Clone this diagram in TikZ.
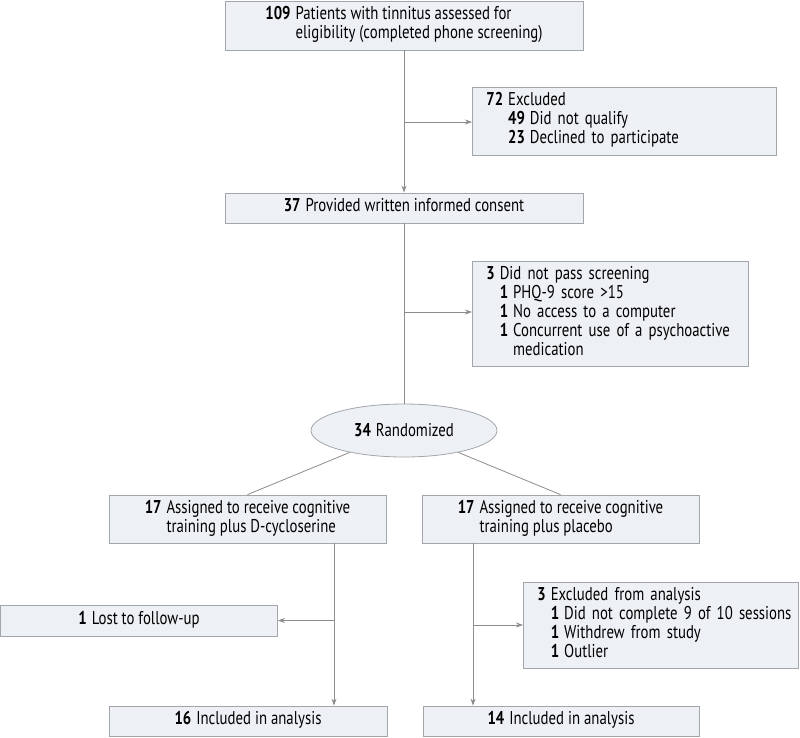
\documentclass[tikz,border=0pt]{standalone}
\usepackage{fontspec}
\setmainfont{PT Sans}[FakeStretch=0.8]
\usetikzlibrary{shapes.geometric, positioning, arrows.meta}

\definecolor{boxfill}{HTML}{EDF0F4}
\definecolor{boxline}{HTML}{A2A6AB}
\definecolor{linkgray}{HTML}{8C8C8C}

% number in bold, then its text (lines under each other)
\newcommand{\flowitem}[2]{\mbox{\textbf{#1}\hspace{5pt}\begin{tabular}[t]{@{}l@{}}#2\end{tabular}}}

\begin{document}
\begin{tikzpicture}[x=1pt, y=-1pt,
		% Style of the boxes of the flow
		flowbox/.style={
			draw=boxline,
			fill=boxfill,
			line width=0.8pt,
			font=\fontsize{18.5}{19}\selectfont,
			inner sep=0pt,
			align=center
		},
		% Boxes on the side (text to the left)
		sidebox/.style={
			flowbox,
			anchor=west,
			align=left,
			inner xsep=14pt
		},
		% Connectors
		link/.style={draw=linkgray, line width=0.8pt},
		arrowlink/.style={link, -{Stealth[length=7pt, width=5pt]}}
		]
		\useasboundingbox (0,0) rectangle (800,737);
		
		% --- MAIN COLUMN ---
		\node[flowbox, minimum width=358, minimum height=49] (assess) at (404,25.5)
			{\flowitem{109}{Patients with tinnitus assessed for\\eligibility (completed phone screening)}};
		
		\node[flowbox, minimum width=358, minimum height=30] (consent) at (404,208)
			{\flowitem{37}{Provided written informed consent}};
		
		\node[flowbox, ellipse, minimum width=186, minimum height=53] (rand) at (404,430.5)
			{\textbf{34}\hspace{5pt}Randomized};
		
		% --- EXCLUSIONS ON THE RIGHT ---
		\node[sidebox, text width=276, minimum height=68] (excl) at (472,121)
			{\flowitem{72}{Excluded\\\flowitem{49}{Did not qualify}\\\flowitem{23}{Declined to participate}}};
		
		\node[sidebox, text width=248, minimum height=105] (screenfail) at (472,313.5)
			{\flowitem{3}{Did not pass screening\\\flowitem{1}{PHQ-9 score >15}\\\flowitem{1}{No access to a computer}\\\flowitem{1}{Concurrent use of a psychoactive\\medication}}};
		
		% --- THE TWO ARMS ---
		\node[flowbox, minimum width=277, minimum height=48] (dcs) at (247.5,519)
			{\flowitem{17}{Assigned to receive cognitive\\training plus D-cycloserine}};
		
		\node[flowbox, minimum width=277, minimum height=48] (plac) at (560.5,519)
			{\flowitem{17}{Assigned to receive cognitive\\training plus placebo}};
		
		\node[flowbox, minimum width=277, minimum height=31] (lost) at (139,620.5)
			{\flowitem{1}{Lost to follow-up}};
		
		\node[sidebox, text width=247, minimum height=86] (exclan) at (523,625)
			{\flowitem{3}{Excluded from analysis\\\flowitem{1}{Did not complete 9 of 10 sessions}\\\flowitem{1}{Withdrew from study}\\\flowitem{1}{Outlier}}};
		
		\node[flowbox, minimum width=278, minimum height=30] (incdcs) at (248,721)
			{\flowitem{16}{Included in analysis}};
		
		\node[flowbox, minimum width=276, minimum height=30] (incplac) at (561,721)
			{\flowitem{14}{Included in analysis}};
		
		% --- CONNECTORS ---
		\coordinate (j1) at (404,122);
		\coordinate (j2) at (404,312);
		\coordinate (lx) at (334,0);
		\coordinate (rx) at (473,0);
		
		\draw[arrowlink] (assess) -- (consent);
		\draw[arrowlink] (j1) -- (j1 -| excl.west);
		\draw[link] (consent) -- (rand);
		\draw[arrowlink] (j2) -- (j2 -| screenfail.west);
		
		\draw[link] (rand.202) -- (dcs.north);
		\draw[link] (rand.338) -- (plac.north);
		
		\draw[arrowlink] (dcs.south -| lx) -- (incdcs.north -| lx);
		\draw[arrowlink] (lx |- lost) -- (lost.east);
		\draw[arrowlink] (plac.south -| rx) -- (incplac.north -| rx);
		\draw[arrowlink] (rx |- exclan) -- (exclan.west);
		
	\end{tikzpicture}
\end{document}
